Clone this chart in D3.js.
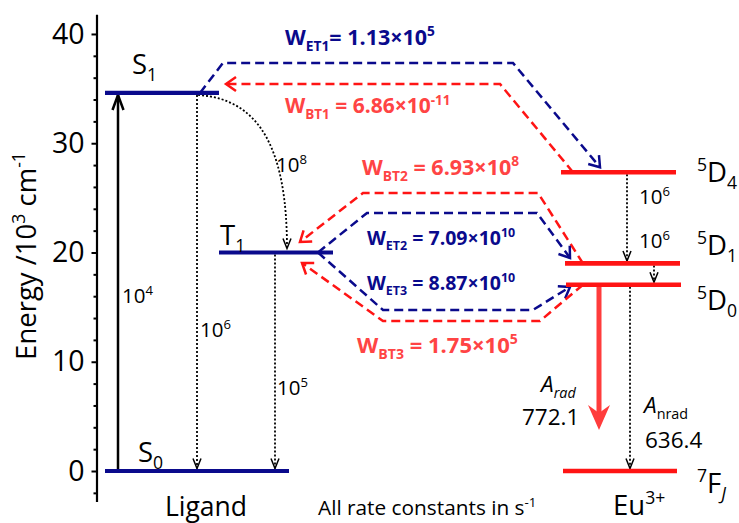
<!DOCTYPE html>
<html><head><meta charset="utf-8">
<script src="https://cdn.jsdelivr.net/npm/d3@7"></script>
<style>
body{margin:0;background:#fff}
svg{display:block}
text{font-family:"Open Sans",sans-serif}
</style>
</head><body>
<svg id="chart" width="739" height="523"></svg>
<script>
// ---------------- DATA ----------------
const ligandLevels = ["S0", "S1", "T1"];
const ligandEnergy = [0, 34.6, 20.0];            // 10^3 cm^-1
const euLevels = ["7FJ", "5D0", "5D1", "5D4"];
const euEnergy = [0, 17.05, 19.0, 27.35];        // 10^3 cm^-1
const yTicks = [0, 10, 20, 30, 40];
const minorTicks = [-2, 2, 4, 6, 8, 12, 14, 16, 18, 22, 24, 26, 28, 32, 34, 36, 38];
const transferIds = ["ET1", "BT1", "BT2", "ET2", "ET3", "BT3"];
const transferMantissa = ["1.13", "6.86", "6.93", "7.09", "8.87", "1.75"];
const transferExponent = ["5", "-11", "8", "10", "10", "5"];
const decayIds = ["S1-S0", "T1-S0", "5D4-5D1", "5D1-5D0", "5D0-7FJ"];
const decayRates = ["10^6", "10^5", "10^6", "10^6", "636.4"];
const iscRate = "10^8";
const excitationRate = "10^4";
const radiativeRate = "772.1";

// ---------------- SETUP ----------------
const svg = d3.select("#chart");
svg.append("rect").attr("width", 739).attr("height", 523).attr("fill", "#fff");
const x = d3.scaleLinear().domain([0, 739]).range([0, 739]);
const y = d3.scaleLinear().domain([-2.8, 41.8]).range([501.6, 14.3]);

const NAVY = "#0a0a8c", RED = "#ff1414", RED_TXT = "#ff4444", RED_ARROW = "#ff3c3c";

const E = {};
ligandLevels.forEach((n, i) => E[n] = ligandEnergy[i]);
euLevels.forEach((n, i) => E[n] = euEnergy[i]);

// rich text helper: parts = [{t, sub, sup, it}]
function rich(g, px, py, parts, o) {
  const t = g.append("text").attr("x", px).attr("y", py)
    .attr("font-size", o.size).attr("fill", o.fill || "#000")
    .attr("font-weight", o.bold ? 700 : 400)
    .attr("text-anchor", o.anchor || "start");
  if (o.transform) t.attr("transform", o.transform);
  let off = 0;
  parts.forEach(p => {
    let target = 0, fs = o.size;
    if (p.sub) { target = o.size * 0.27; fs = o.size * 0.64; }
    if (p.sup) { target = -o.size * 0.4; fs = o.size * 0.64; }
    const s = t.append("tspan").text(p.t).attr("font-size", fs).attr("dy", target - off);
    if (p.it) s.attr("font-style", "italic");
    off = target;
  });
  return t;
}
function powParts(str) {           // "10^6" -> [{10},{6 sup}]
  const [b, e] = str.split("^");
  return e === undefined ? [{t: b}] : [{t: b}, {t: e, sup: true}];
}

// markers
const defs = svg.append("defs");
function marker(id, color, w, len, half) {
  defs.append("marker").attr("id", id)
    .attr("viewBox", `${-len - 3} ${-half - 3} ${len + 6} ${2 * half + 6}`)
    .attr("refX", 0).attr("refY", 0)
    .attr("markerWidth", len + 6).attr("markerHeight", 2 * half + 6)
    .attr("markerUnits", "userSpaceOnUse").attr("orient", "auto")
    .append("path").attr("d", `M${-len},${-half} L0,0 L${-len},${half}`)
    .attr("fill", "none").attr("stroke", color).attr("stroke-width", w)
    .attr("stroke-linejoin", "miter").attr("stroke-linecap", "butt");
}
marker("hNavy", NAVY, 2.5, 10, 7);
marker("hRed", RED, 2.5, 10, 7);
marker("hDot", "#000", 1.5, 10, 4);
marker("hExc", "#000", 2.5, 15, 5.5);

// ---------------- AXIS ----------------
const ax = svg.append("g").attr("transform", "translate(96.5,0)");
ax.call(d3.axisLeft(y).tickValues(yTicks).tickSize(5).tickSizeOuter(0).tickPadding(7).tickFormat(d3.format("d")));
ax.select(".domain").attr("stroke", "#000").attr("stroke-width", 2.2);
ax.selectAll(".tick line").attr("stroke", "#000").attr("stroke-width", 2);
ax.selectAll(".tick text").attr("font-size", 28.5).attr("fill", "#000").attr("font-family", "Open Sans");
const axm = svg.append("g").attr("transform", "translate(96.5,0)");
axm.call(d3.axisLeft(y).tickValues(minorTicks).tickSize(3).tickSizeOuter(0).tickFormat(""));
axm.select(".domain").remove();
axm.selectAll(".tick line").attr("stroke", "#000").attr("stroke-width", 2);

rich(svg, 0, 0, [{t: "Energy /10"}, {t: "3", sup: true}, {t: " cm"}, {t: "-1", sup: true}],
  {size: 27.5, anchor: "middle", transform: "translate(36,256) rotate(-90)"});

// ---------------- LAYOUT ----------------
const levelX = {S0: [105, 289], S1: [105, 219], T1: [219, 333],
  "5D4": [561, 676], "5D1": [565, 680], "5D0": [566, 681], "7FJ": [563, 677]};

const transferPath = {
  ET1: [[200, E.S1], [223, 37.35], [513, 37.35], [600, 27.8]],
  BT1: [[573, E["5D4"]], [500, 35.42], [226, 35.42]],
  BT2: [[583, E["5D1"]], [538, 25.45], [363, 25.45], [300, 20.96]],
  ET2: [[318, E.T1], [367, 23.62], [537, 23.62], [570, 19.5]],
  ET3: [[318, E.T1], [383, 14.74], [533, 14.74], [570, 16.84]],
  BT3: [[583, E["5D0"]], [540, 13.73], [383, 13.73], [302, 19.04]]
};
const line = d3.line().x(d => x(d[0])).y(d => y(d[1]));

transferIds.forEach(id => {
  const et = id.startsWith("ET");
  svg.append("path").attr("d", line(transferPath[id]))
    .attr("fill", "none").attr("stroke", et ? NAVY : RED)
    .attr("stroke-width", 2.5).attr("stroke-dasharray", "9,5")
    .attr("stroke-linejoin", "miter")
    .attr("marker-end", `url(#${et ? "hNavy" : "hRed"})`);
});

// transfer labels
const transferLabelPos = {ET1: [285, 45, 21.5], BT1: [285, 113, 21], BT2: [362, 175, 21.5],
  ET2: [367, 245, 19.5], ET3: [367, 290, 19.5], BT3: [357, 353, 22]};
transferIds.forEach((id, i) => {
  const et = id.startsWith("ET");
  const [px, py, fs] = transferLabelPos[id];
  rich(svg, px, py, [{t: "W"}, {t: id, sub: true},
    {t: (id === "ET1" ? "= " : " = ") + transferMantissa[i] + "×10"},
    {t: transferExponent[i], sup: true}],
    {size: fs, bold: true, fill: et ? NAVY : RED_TXT});
});

// decay (dotted) arrows
const decayX = {"S1-S0": 197, "T1-S0": 275, "5D4-5D1": 627, "5D1-5D0": 654, "5D0-7FJ": 630};
decayIds.forEach(id => {
  const [a, b] = id.split("-");
  const xx = x(decayX[id]);
  svg.append("line").attr("x1", xx).attr("x2", xx)
    .attr("y1", y(E[a]) + 2).attr("y2", y(E[b]) - 2.5)
    .attr("stroke", "#000").attr("stroke-width", 1.8).attr("stroke-dasharray", "2,2")
    .attr("marker-end", "url(#hDot)");
});

// ISC curve S1 -> T1
{
  const x0 = x(198), y0 = y(E.S1) + 2, x1 = x(287), y1 = y(E.T1) - 4;
  const p = d3.path();
  p.moveTo(x0, y0);
  p.bezierCurveTo(x0 + 0.72 * (x1 - x0), y0 + 4, x1, y0 + 0.38 * (y1 - y0), x1, y1);
  svg.append("path").attr("d", p.toString()).attr("fill", "none")
    .attr("stroke", "#000").attr("stroke-width", 1.8).attr("stroke-dasharray", "2,2")
    .attr("marker-end", "url(#hDot)");
}

// excitation arrow S0 -> S1
svg.append("line").attr("x1", x(118)).attr("x2", x(118))
  .attr("y1", y(E.S0)).attr("y2", y(E.S1) + 2)
  .attr("stroke", "#000").attr("stroke-width", 2.5).attr("marker-end", "url(#hExc)");

// radiative arrow 5D0 -> 7FJ (thick red)
{
  const xx = x(599), yTop = y(E["5D0"]), yTip = y(3.75);
  svg.append("line").attr("x1", xx).attr("x2", xx).attr("y1", yTop).attr("y2", yTip - 14)
    .attr("stroke", RED_ARROW).attr("stroke-width", 5);
  svg.append("path")
    .attr("d", `M${xx},${yTip} L${xx - 11},${yTip - 25} L${xx},${yTip - 17} L${xx + 11},${yTip - 25} Z`)
    .attr("fill", RED_ARROW);
}

// levels
Object.keys(levelX).forEach(n => {
  const lig = ligandLevels.includes(n);
  svg.append("line").attr("x1", x(levelX[n][0])).attr("x2", x(levelX[n][1]))
    .attr("y1", y(E[n])).attr("y2", y(E[n]))
    .attr("stroke", lig ? NAVY : RED).attr("stroke-width", lig ? 4.2 : 4.6);
});

// level labels
rich(svg, 132, 74, [{t: "S"}, {t: "1", sub: true}], {size: 27.5});
rich(svg, 220, 245, [{t: "T"}, {t: "1", sub: true}], {size: 27.5});
rich(svg, 138, 462, [{t: "S"}, {t: "0", sub: true}], {size: 27.5});
rich(svg, 697, 182, [{t: "5", sup: true}, {t: "D"}, {t: "4", sub: true}], {size: 27.5});
rich(svg, 697, 255, [{t: "5", sup: true}, {t: "D"}, {t: "1", sub: true}], {size: 27.5});
rich(svg, 697, 310, [{t: "5", sup: true}, {t: "D"}, {t: "0", sub: true}], {size: 27.5});
rich(svg, 697, 493, [{t: "7", sup: true}, {t: "F"}, {t: "J", sub: true, it: true}], {size: 27.5});
rich(svg, 206, 516, [{t: "Ligand"}], {size: 26.5, anchor: "middle"});
rich(svg, 613, 515, [{t: "Eu"}, {t: "3+", sup: true}], {size: 27.5});
rich(svg, 318, 515, [{t: "All rate constants in s"}, {t: "-1", sup: true}], {size: 20.8});

// rate labels
rich(svg, 122, 303, powParts(excitationRate), {size: 20.5});
rich(svg, 200, 337, powParts(decayRates[0]), {size: 20.5});
rich(svg, 277, 395, powParts(decayRates[1]), {size: 20.5});
rich(svg, 276, 172, powParts(iscRate), {size: 20.5});
rich(svg, 639, 204, powParts(decayRates[2]), {size: 20.5});
rich(svg, 639, 248, powParts(decayRates[3]), {size: 20.5});
rich(svg, 541, 392, [{t: "A", it: true}, {t: "rad", sub: true, it: true}], {size: 22.5});
rich(svg, 522, 425, [{t: radiativeRate}], {size: 22.5});
rich(svg, 644, 413, [{t: "A", it: true}, {t: "nrad", sub: true}], {size: 22.5});
rich(svg, 645, 448, [{t: decayRates[4]}], {size: 22.5});
</script>
</body></html>
